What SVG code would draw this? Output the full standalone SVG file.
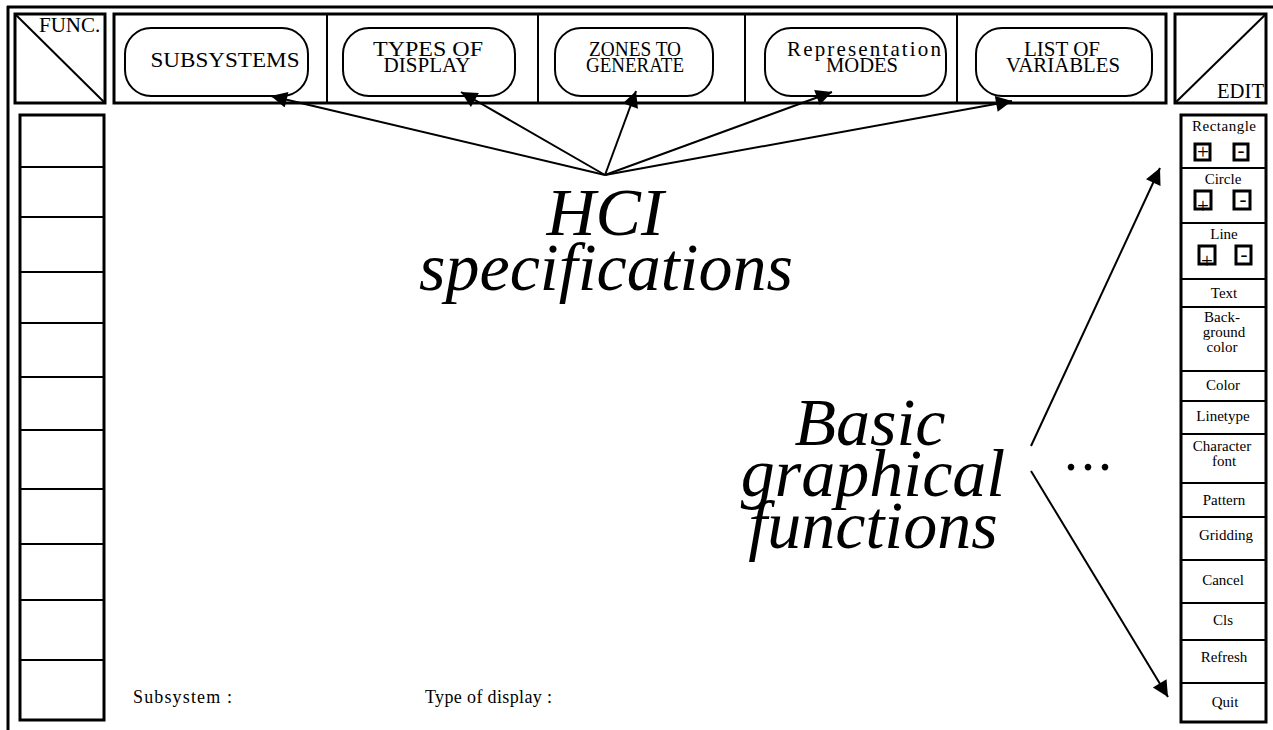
<svg xmlns="http://www.w3.org/2000/svg" width="1273" height="730" viewBox="0 0 1273 730">
<defs>
<style>
.t{font-family:"Liberation Serif","Times New Roman",serif;fill:#000}
.big{font-family:"Liberation Serif","Times New Roman",serif;font-style:italic;font-size:68px;fill:#000}
.box{fill:#fff;stroke:#000;stroke-width:3}
.thin{fill:none;stroke:#000;stroke-width:2}
.pill{fill:#fff;stroke:#000;stroke-width:2}
.pb{fill:#fff;stroke:#000;stroke-width:3}
.con{stroke:#000;stroke-width:2;fill:none;marker-end:url(#ah)}
.p{font-size:21px;text-anchor:middle}
.c{font-size:15px;text-anchor:middle}
.s{font-size:21px;text-anchor:middle}
</style>
<marker id="ah" viewBox="0 0 10 10" refX="10" refY="5" markerWidth="25" markerHeight="16" markerUnits="userSpaceOnUse" orient="auto">
<path d="M0,0 L10,5 L0,10 z" fill="#000"/>
</marker>
</defs>
<rect width="1273" height="730" fill="#fff"/>
<g id="frame">
<line x1="7" y1="7" x2="1273" y2="7" stroke="#000" stroke-width="3"/>
<line x1="8" y1="6" x2="8" y2="730" stroke="#000" stroke-width="3"/>
</g>
<g id="func">
<rect class="box" x="15" y="14" width="90" height="89"/>
<line x1="15" y1="14" x2="105" y2="103" stroke="#000" stroke-width="2"/>
<text class="t" x="39" y="32" font-size="21">FUNC.</text>
</g>
<g id="topbar">
<rect class="box" x="114" y="14" width="1052" height="89"/>
<line class="thin" x1="327" y1="14" x2="327" y2="103"/>
<line class="thin" x1="538" y1="14" x2="538" y2="103"/>
<line class="thin" x1="745" y1="14" x2="745" y2="103"/>
<line class="thin" x1="957" y1="14" x2="957" y2="103"/>
</g>
<g id="subsystems">
<rect class="pill" x="125" y="28" width="183" height="68" rx="26"/>
<text class="t p" x="225" y="67" textLength="149" lengthAdjust="spacingAndGlyphs">SUBSYSTEMS</text>
</g>
<g id="types">
<rect class="pill" x="343" y="28" width="172" height="68" rx="26"/>
<text class="t p" x="428" y="56" textLength="110" lengthAdjust="spacingAndGlyphs">TYPES OF</text>
<text class="t p" x="427" y="72" textLength="87" lengthAdjust="spacingAndGlyphs">DISPLAY</text>
</g>
<g id="zones">
<rect class="pill" x="555" y="28" width="158" height="68" rx="26"/>
<text class="t p" x="635" y="56" textLength="92" lengthAdjust="spacingAndGlyphs">ZONES TO</text>
<text class="t p" x="635" y="72" textLength="98" lengthAdjust="spacingAndGlyphs">GENERATE</text>
</g>
<g id="modes">
<rect class="pill" x="765" y="28" width="181" height="68" rx="26"/>
<text class="t p" x="864" y="56" textLength="154" lengthAdjust="spacing">Representation</text>
<text class="t p" x="862" y="72" textLength="72" lengthAdjust="spacingAndGlyphs">MODES</text>
</g>
<g id="variables">
<rect class="pill" x="976" y="28" width="176" height="68" rx="26"/>
<text class="t p" x="1062" y="56" textLength="76" lengthAdjust="spacingAndGlyphs">LIST OF</text>
<text class="t p" x="1063" y="72" textLength="114" lengthAdjust="spacingAndGlyphs">VARIABLES</text>
</g>
<g id="edit">
<rect class="box" x="1175" y="14" width="91" height="89"/>
<line x1="1175" y1="103" x2="1266" y2="14" stroke="#000" stroke-width="2"/>
<text class="t" x="1217" y="98" font-size="20" textLength="47" lengthAdjust="spacingAndGlyphs">EDIT</text>
</g>
<g id="leftcol">
<rect class="box" x="20" y="115" width="84" height="605"/>
<path class="thin" d="M20,167H104M20,217H104M20,272H104M20,323H104M20,377H104M20,430H104M20,489H104M20,544H104M20,600H104M20,660H104"/>
</g>
<g id="rightcol">
<rect class="box" x="1181" y="115" width="85" height="607"/>
<path class="thin" d="M1181,168H1266M1181,223H1266M1181,279H1266M1181,307H1266M1181,371H1266M1181,401H1266M1181,434H1266M1181,483H1266M1181,517H1266M1181,560H1266M1181,603H1266M1181,640H1266M1181,683H1266"/>
</g>
<g id="rectangle">
<text class="t c" x="1224" y="131" textLength="64" lengthAdjust="spacing">Rectangle</text>
<rect class="pb" x="1195" y="144" width="15" height="16"/>
<text class="t s" x="1203" y="159">+</text>
<rect class="pb" x="1234" y="144" width="14" height="16"/>
<text class="t s" x="1241" y="157">-</text>
</g>
<g id="circle">
<text class="t c" x="1223" y="184">Circle</text>
<rect class="pb" x="1195" y="191" width="16" height="18"/>
<text class="t s" x="1203" y="213">+</text>
<rect class="pb" x="1234" y="191" width="16" height="18"/>
<text class="t s" x="1243" y="206">-</text>
</g>
<g id="line">
<text class="t c" x="1224" y="239">Line</text>
<rect class="pb" x="1199" y="246" width="16" height="18"/>
<text class="t s" x="1207" y="268">+</text>
<rect class="pb" x="1236" y="246" width="15" height="18"/>
<text class="t s" x="1244" y="261">-</text>
</g>
<g id="textfn"><text class="t c" x="1224" y="298">Text</text></g>
<g id="bgcolor">
<text class="t c" x="1222" y="322">Back-</text>
<text class="t c" x="1224" y="337">ground</text>
<text class="t c" x="1222" y="352">color</text>
</g>
<g id="color"><text class="t c" x="1223" y="390">Color</text></g>
<g id="linetype"><text class="t c" x="1223" y="421">Linetype</text></g>
<g id="charfont">
<text class="t c" x="1222" y="451">Character</text>
<text class="t c" x="1224" y="466">font</text>
</g>
<g id="pattern"><text class="t c" x="1224" y="505">Pattern</text></g>
<g id="gridding"><text class="t c" x="1226" y="540">Gridding</text></g>
<g id="cancel"><text class="t c" x="1223" y="585">Cancel</text></g>
<g id="cls"><text class="t c" x="1223" y="625">Cls</text></g>
<g id="refresh"><text class="t c" x="1224" y="662">Refresh</text></g>
<g id="quit"><text class="t c" x="1225" y="707">Quit</text></g>
<g id="hci">
<text class="big" x="605" y="235" text-anchor="middle">HCI</text>
<text class="big" x="606" y="290" text-anchor="middle">specifications</text>
</g>
<g id="basic">
<text class="big" x="870" y="445" text-anchor="middle" font-size="66">Basic</text>
<text class="big" x="873" y="496" text-anchor="middle" font-size="66">graphical</text>
<text class="big" x="873" y="548" text-anchor="middle" font-size="66">functions</text>
</g>
<g id="dots"><text class="t" x="1064" y="470" font-size="56" letter-spacing="3">...</text></g>
<g id="status">
<text class="t" x="133" y="703" font-size="18" textLength="99" lengthAdjust="spacing">Subsystem :</text>
<text class="t" x="425" y="703" font-size="18" textLength="127" lengthAdjust="spacing">Type of display :</text>
</g>
<g id="connectors">
<line class="con" x1="605" y1="175" x2="271" y2="96"/>
<line class="con" x1="605" y1="175" x2="461" y2="92"/>
<line class="con" x1="605" y1="175" x2="636" y2="91"/>
<line class="con" x1="605" y1="175" x2="832" y2="92"/>
<line class="con" x1="605" y1="175" x2="1012" y2="101"/>
<line class="con" x1="1031" y1="446" x2="1160" y2="168"/>
<line class="con" x1="1031" y1="471" x2="1168" y2="697"/>
</g>
</svg>
